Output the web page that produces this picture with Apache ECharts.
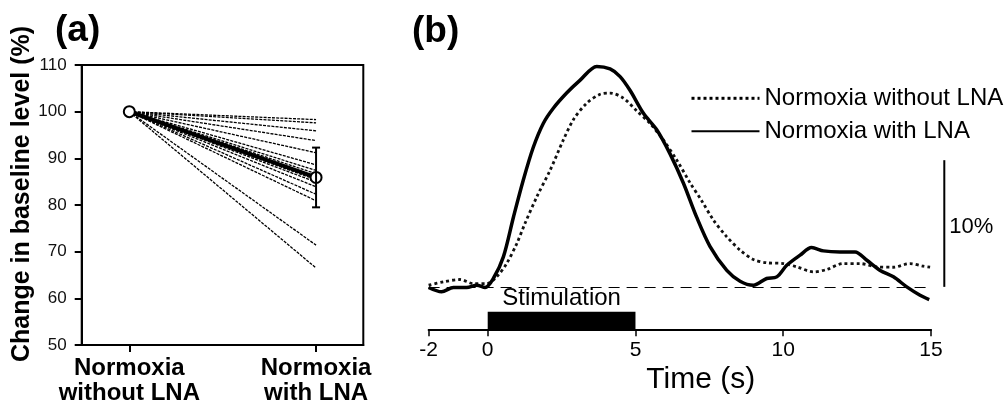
<!DOCTYPE html>
<html>
<head>
<meta charset="utf-8">
<script src="https://cdn.jsdelivr.net/npm/echarts@6/dist/echarts.min.js"></script>
<style>
html,body{margin:0;padding:0;background:#fff;}
#chart{width:1008px;height:406px;}
</style>
</head>
<body>
<div id="chart"></div>
<script>
// ---------- Panel (a) data ----------
const categoriesA = ['Normoxia\nwithout LNA', 'Normoxia\nwith LNA'];
const yTicksA = [50, 60, 70, 80, 90, 100, 110];
const startValue = 100;
const individualEnds = [98.3, 97.6, 95.9, 93.8, 91.2, 88.6, 87.4, 86.7, 86.1, 85.4, 84.9, 83.9, 82.3, 80.9, 71.4, 66.5];
const meanValues = [100, 85.9];
const errorRange = [79.5, 92.3];

// ---------- Panel (b) data ----------
const timeTicks = [-2, 0, 5, 10, 15];
const timeWithLNA = [-2.0,-1.56,-1.16,-0.71,-0.37,-0.09,0.19,0.53,0.87,1.2,1.54,1.88,2.22,2.67,3.12,3.69,4.14,4.48,4.82,5.27,5.72,6.17,6.62,7.07,7.52,8.09,8.54,8.99,9.44,9.78,10.12,10.57,10.96,11.36,11.92,12.43,12.83,13.28,13.73,14.18,14.63,14.94];
const valueWithLNA = [-0.05,-0.39,-0.05,-0.05,0.13,-0.05,0.66,2.37,5.5,8.4,11.0,12.9,14.1,15.3,16.3,17.4,17.2,16.6,15.5,13.7,12.4,10.5,8.2,5.5,3.2,1.3,0.45,0.13,0.66,0.79,1.7,2.5,3.1,2.84,2.76,2.76,2.1,1.3,0.79,0,-0.66,-1.0];
const timeWithoutLNA = [-2.0,-1.5,-0.94,-0.49,-0.03,0.3,0.64,0.98,1.26,1.66,2.11,2.56,2.9,3.35,3.8,4.14,4.59,5.04,5.49,5.94,6.4,6.85,7.24,7.63,8.09,8.54,8.99,9.44,10.0,10.46,11.02,11.47,12.03,12.6,13.16,13.73,14.29,14.74,14.97];
const valueWithoutLNA = [0.13,0.4,0.58,0.26,0.26,0.79,1.84,3.4,5.0,7.1,9.2,11.6,13.2,14.5,15.2,15.3,14.9,13.9,12.9,11.6,10.0,8.2,6.8,5.3,3.95,2.9,2.16,1.9,1.84,1.58,1.18,1.37,1.84,1.84,1.58,1.55,1.84,1.63,1.55];
const stimulationWindow = [0, 5];
const scaleBarValue = 10;
const seriesNames = ['Normoxia without LNA', 'Normoxia with LNA'];

const FONT = 'Liberation Sans, Arial, sans-serif';
const chart = echarts.init(document.getElementById('chart'), null, {renderer: 'canvas'});

const individualSeries = individualEnds.map(function (v) {
  return {
    type: 'line', xAxisIndex: 0, yAxisIndex: 0, silent: true,
    data: [[0, startValue], [1, v]],
    symbol: 'none',
    lineStyle: {color: '#000', width: 1.3, type: [3, 1.2]},
    z: 2
  };
});

const option = {
  animation: false,
  backgroundColor: '#fff',
  textStyle: {fontFamily: FONT},
  grid: [
    {left: 81.7, top: 65, width: 281.6, height: 281.7, show: true, borderColor: '#000', borderWidth: 2, backgroundColor: 'transparent'},
    {left: 428.6, top: 33.5, width: 502.4, height: 295.8}
  ],
  xAxis: [
    {
      type: 'value', gridIndex: 0, min: -0.255, max: 1.253,
      axisLine: {show: true, onZero: false, lineStyle: {color: '#000', width: 2}},
      splitLine: {show: false},
      axisTick: {show: true, inside: false, length: 7, customValues: [0, 1], lineStyle: {color: '#000', width: 2}},
      axisLabel: {
        customValues: [0, 1], margin: 11,
        formatter: function (v) { return categoriesA[Math.round(v)]; },
        fontFamily: FONT, fontWeight: 'bold', fontSize: 24, lineHeight: 25, color: '#000'
      }
    },
    {
      type: 'value', gridIndex: 1, min: -2, max: 15,
      axisLine: {show: true, onZero: false, lineStyle: {color: '#000', width: 2}},
      splitLine: {show: false},
      axisTick: {show: true, inside: false, length: 7, customValues: timeTicks, lineStyle: {color: '#000', width: 1.5}},
      axisLabel: {customValues: timeTicks, margin: 10, fontFamily: FONT, fontSize: 21, color: '#000'},
      name: 'Time (s)', nameLocation: 'middle', nameGap: 31,
      nameTextStyle: {fontFamily: FONT, fontSize: 30, color: '#000', padding: [0, 0, 0, 42]}
    }
  ],
  yAxis: [
    {
      type: 'value', gridIndex: 0, min: 50, max: 110, interval: 10,
      axisLine: {show: true, onZero: false, lineStyle: {color: '#000', width: 2}},
      splitLine: {show: false},
      axisTick: {show: true, inside: false, length: 7, lineStyle: {color: '#000', width: 2}},
      axisLabel: {margin: 15, fontFamily: FONT, fontSize: 17, color: '#111'},
      name: 'Change in baseline level (%)', nameLocation: 'middle', nameGap: 47, nameRotate: 90,
      nameTextStyle: {fontFamily: FONT, fontWeight: 'bold', fontSize: 25, color: '#000', padding: [0, 0, 0, 22]}
    },
    {
      type: 'value', gridIndex: 1, min: -3.35, max: 20, show: false,
      axisLine: {onZero: false},
      splitLine: {show: false}
    }
  ],
  legend: {
    orient: 'vertical', left: 685, top: 77.8,
    itemWidth: 68, itemHeight: 14, itemGap: 2,
    data: [
      {name: seriesNames[0], lineStyle: {width: 3, type: [3, 3], color: '#000'}},
      {name: seriesNames[1], lineStyle: {width: 2, color: '#000'}}
    ],
    itemStyle: {opacity: 0},
    textStyle: {fontFamily: FONT, fontSize: 24, lineHeight: 22, color: '#000', padding: [0, 0, 9, 0]},
    selectedMode: false
  },
  graphic: [
    {type: 'text', left: 55, top: 12, style: {text: '(a)', font: 'bold 37px ' + FONT, fill: '#000'}},
    {type: 'text', left: 412, top: 13, style: {text: '(b)', font: 'bold 37px ' + FONT, fill: '#000'}}
  ],
  series: individualSeries.concat([
    {
      type: 'line', xAxisIndex: 0, yAxisIndex: 0, silent: true,
      data: meanValues.map(function (v, i) { return [i, v]; }),
      symbol: 'circle', symbolSize: 11,
      itemStyle: {color: '#fff', borderColor: '#000', borderWidth: 2},
      lineStyle: {color: '#000', width: 4},
      z: 5
    },
    {
      type: 'custom', xAxisIndex: 0, yAxisIndex: 0, silent: true, z: 6,
      data: [[1, errorRange[0], errorRange[1]]],
      renderItem: function (params, api) {
        const lo = api.coord([api.value(0), api.value(1)]);
        const hi = api.coord([api.value(0), api.value(2)]);
        const w = 4;
        const st = {stroke: '#000', lineWidth: 2};
        return {type: 'group', children: [
          {type: 'line', shape: {x1: lo[0], y1: lo[1], x2: hi[0], y2: hi[1]}, style: st},
          {type: 'line', shape: {x1: lo[0] - w, y1: lo[1], x2: lo[0] + w, y2: lo[1]}, style: st},
          {type: 'line', shape: {x1: hi[0] - w, y1: hi[1], x2: hi[0] + w, y2: hi[1]}, style: st}
        ]};
      }
    },
    {
      name: seriesNames[0], type: 'line', xAxisIndex: 1, yAxisIndex: 1,
      data: timeWithoutLNA.map(function (t, i) { return [t, valueWithoutLNA[i]]; }),
      symbol: 'none', smooth: 0.3,
      lineStyle: {color: '#111', width: 2.8, type: [3, 3]},
      itemStyle: {color: '#111'},
      markLine: {
        silent: true, symbol: 'none', label: {show: false},
        lineStyle: {color: '#000', width: 1, type: [11, 7]},
        data: [{yAxis: 0}]
      },
      z: 3
    },
    {
      name: seriesNames[1], type: 'line', xAxisIndex: 1, yAxisIndex: 1,
      data: timeWithLNA.map(function (t, i) { return [t, valueWithLNA[i]]; }),
      symbol: 'none', smooth: 0.3,
      lineStyle: {color: '#000', width: 3.5},
      itemStyle: {color: '#000'},
      z: 4
    },
    {
      type: 'custom', xAxisIndex: 1, yAxisIndex: 1, silent: true, clip: false,
      data: [[stimulationWindow[0], stimulationWindow[1]]],
      renderItem: function (params, api) {
        const bottom = params.coordSys.y + params.coordSys.height;
        const x0 = api.coord([api.value(0), 0])[0];
        const x1 = api.coord([api.value(1), 0])[0];
        const h = 17.6;
        return {type: 'group', children: [
          {type: 'rect', shape: {x: x0, y: bottom - h, width: x1 - x0, height: h}, style: {fill: '#000'}},
          {type: 'text', style: {text: 'Stimulation', x: (x0 + x1) / 2, y: bottom - h - 13, align: 'center', verticalAlign: 'middle', font: '24px ' + FONT, fill: '#000'}}
        ]};
      }
    },
    {
      type: 'custom', xAxisIndex: 1, yAxisIndex: 1, silent: true, clip: false,
      data: [[15, 0, scaleBarValue]],
      renderItem: function (params, api) {
        const p0 = api.coord([api.value(0), api.value(1)]);
        const p1 = api.coord([api.value(0), api.value(2)]);
        const x = p0[0] + 13.3;
        return {type: 'group', children: [
          {type: 'line', shape: {x1: x, y1: p0[1], x2: x, y2: p1[1]}, style: {stroke: '#000', lineWidth: 2}},
          {type: 'text', style: {text: api.value(2) + '%', x: x + 5, y: (p0[1] + p1[1]) / 2 + 3, align: 'left', verticalAlign: 'middle', font: '22px ' + FONT, fill: '#000'}}
        ]};
      }
    }
  ])
};
chart.setOption(option);
</script>
</body>
</html>
